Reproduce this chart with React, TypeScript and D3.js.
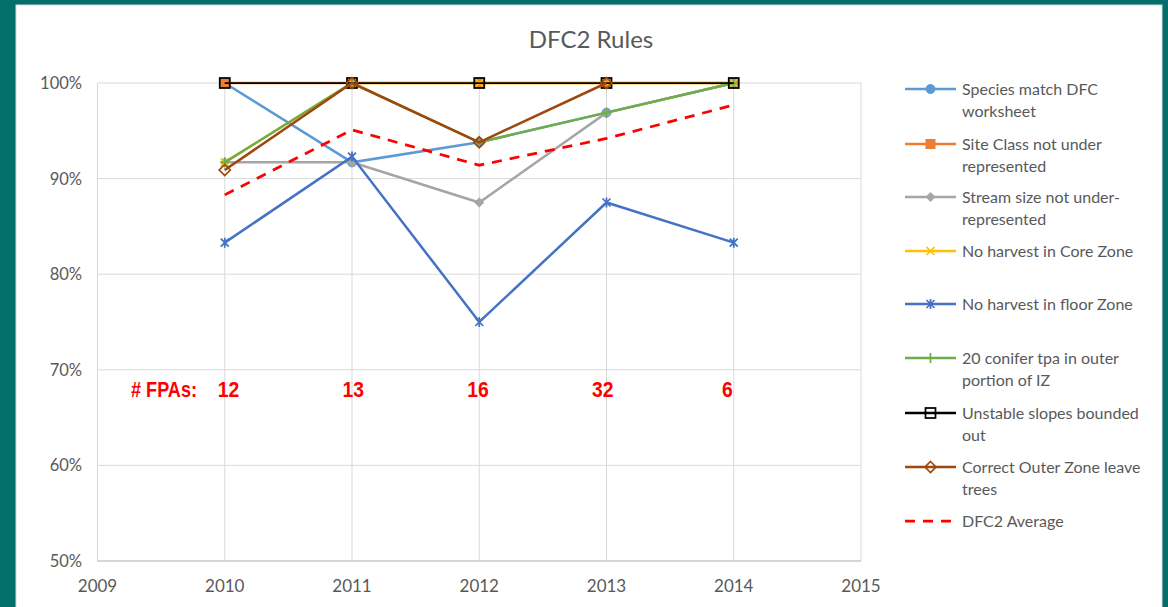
import React from 'react';
import * as d3 from 'd3';

// years on the x axis
const years = [2010, 2011, 2012, 2013, 2014];
const fpaCounts = [12, 13, 16, 32, 6];
const yTicks = [0.5, 0.6, 0.7, 0.8, 0.9, 1.0];
const xTicks = [2009, 2010, 2011, 2012, 2013, 2014, 2015];

// series values (fraction), null = no point
const speciesMatch = [1.0, 0.917, 0.938, 0.969, 1.0];
const siteClass = [1.0, 1.0, 1.0, 1.0, 1.0];
const streamSize = [0.917, 0.917, 0.875, 0.969, 1.0];
const coreZone = [0.917, 1.0, 1.0, 1.0, 1.0];
const floorZone = [0.833, 0.923, 0.75, 0.875, 0.833];
const conifer = [0.917, 1.0, 0.938, 0.969, 1.0];
const unstable = [1.0, 1.0, 1.0, 1.0, 1.0];
const outerZone = [0.909, 1.0, 0.938, 1.0, null];
const average = [0.883, 0.951, 0.914, 0.942, 0.977];

const series = [
  { name: ['Species match DFC', 'worksheet'], values: speciesMatch, color: '#5B9BD5', marker: 'circle' },
  { name: ['Site Class not under', 'represented'], values: siteClass, color: '#ED7D31', marker: 'square' },
  { name: ['Stream size not under-', 'represented'], values: streamSize, color: '#A5A5A5', marker: 'diamond' },
  { name: ['No harvest in Core Zone'], values: coreZone, color: '#FFC000', marker: 'x' },
  { name: ['No harvest in floor Zone'], values: floorZone, color: '#4472C4', marker: 'star' },
  { name: ['20 conifer tpa in outer', 'portion of IZ'], values: conifer, color: '#70AD47', marker: 'plus' },
  { name: ['Unstable slopes bounded', 'out'], values: unstable, color: '#000000', marker: 'hsquare' },
  { name: ['Correct Outer Zone leave', 'trees'], values: outerZone, color: '#9E480E', marker: 'hdiamond' },
  { name: ['DFC2 Average'], values: average, color: '#FF0000', marker: 'none', dashed: true },
];

const legendY = [89, 144, 197, 251, 304, 358, 413, 467, 521];

const Marker = ({ type, color, x, y }: { type: string; color: string; x: number; y: number }) => {
  switch (type) {
    case 'circle':
      return <circle cx={x} cy={y} r={4.5} fill={color} stroke={color} />;
    case 'square':
      return <rect x={x - 4.5} y={y - 4.5} width={9} height={9} fill={color} stroke={color} />;
    case 'diamond':
      return <path d={`M${x},${y - 5}L${x + 5},${y}L${x},${y + 5}L${x - 5},${y}Z`} fill={color} />;
    case 'x':
      return <path d={`M${x - 4},${y - 4}L${x + 4},${y + 4}M${x - 4},${y + 4}L${x + 4},${y - 4}`} stroke={color} strokeWidth={1.75} />;
    case 'star':
      return (
        <path
          d={`M${x - 4},${y - 4}L${x + 4},${y + 4}M${x - 4},${y + 4}L${x + 4},${y - 4}M${x},${y - 5}L${x},${y + 5}`}
          stroke={color}
          strokeWidth={1.75}
        />
      );
    case 'plus':
      return <path d={`M${x - 4},${y}L${x + 4},${y}M${x},${y - 5}L${x},${y + 5}`} stroke={color} strokeWidth={1.75} />;
    case 'hsquare':
      return <rect x={x - 5} y={y - 5} width={10} height={10} fill="none" stroke={color} strokeWidth={1.75} />;
    case 'hdiamond':
      return <path d={`M${x},${y - 5.5}L${x + 5.5},${y}L${x},${y + 5.5}L${x - 5.5},${y}Z`} fill="none" stroke={color} strokeWidth={1.75} />;
    default:
      return null;
  }
};

const App = () => {
  const W = 1168,
    H = 607;
  const margin = { left: 97.5, right: 861, top: 83, bottom: 561 };
  const font = 'Lato, "Open Sans", sans-serif';
  const fpaFont = '"Liberation Sans Narrow", "Liberation Sans", Arial, sans-serif';

  const x = d3.scaleLinear().domain([2009, 2015]).range([margin.left, margin.right]);
  const y = d3.scaleLinear().domain([0.5, 1.0]).range([margin.bottom, margin.top]);

  const line = d3
    .line<number | null>()
    .defined((d) => d !== null)
    .x((_, i) => x(years[i]))
    .y((d) => y(d as number));

  return (
    <svg width={W} height={H} style={{ position: 'absolute', left: 0, top: 0 }} fontFamily={font}>
      <rect x={0} y={0} width={W} height={H} fill="#036F6B" />
      <rect x={16} y={5} width={1146} height={610} fill="#ffffff" stroke="#d9d9d9" strokeWidth={1} />

      <text x={591} y={48} textAnchor="middle" fontSize={24} fill="#595959">
        DFC2 Rules
      </text>

      {/* gridlines */}
      {yTicks.map((t) => (
        <line key={'gy' + t} x1={margin.left} x2={margin.right} y1={y(t)} y2={y(t)} stroke="#d9d9d9" strokeWidth={1} />
      ))}
      {xTicks.map((t) => (
        <line key={'gx' + t} x1={x(t)} x2={x(t)} y1={margin.top} y2={margin.bottom} stroke="#d9d9d9" strokeWidth={1} />
      ))}
      <line x1={margin.left} x2={margin.right} y1={y(0.5)} y2={y(0.5)} stroke="#bfbfbf" strokeWidth={1} />

      {/* axis labels */}
      {yTicks.map((t) => (
        <text key={'ty' + t} x={82} y={y(t) + 6} textAnchor="end" fontSize={16.5} fill="#595959">
          {d3.format('.0%')(t)}
        </text>
      ))}
      {xTicks.map((t) => (
        <text key={'tx' + t} x={x(t)} y={592} textAnchor="middle" fontSize={17} fill="#595959">
          {t}
        </text>
      ))}

      {/* series lines */}
      {series.map((s, i) => (
        <g key={'s' + i}>
          <path
            d={line(s.values) || ''}
            fill="none"
            stroke={s.color}
            strokeWidth={s.marker === 'hsquare' ? 1.75 : s.dashed ? 2.75 : 2.5}
            strokeDasharray={s.dashed ? '10,8' : undefined}
          />
          {s.values.map((v, j) =>
            v === null ? null : <Marker key={j} type={s.marker} color={s.color} x={x(years[j])} y={y(v)} />
          )}
        </g>
      ))}

      {/* FPA counts */}
      <text
        x={131}
        y={397}
        fontSize={22.5}
        fontWeight="bold"
        fill="#FF0000"
        fontFamily={fpaFont}
        textLength={66}
        lengthAdjust="spacingAndGlyphs"
      >
        # FPAs:
      </text>
      {fpaCounts.map((c, i) => {
        const label = String(c);
        const w = label.length * 10.75;
        const cx = x(years[i] + 0.03 - i * 0.02);
        return (
          <text
            key={'f' + i}
            x={cx - w / 2}
            y={397}
            fontSize={22.5}
            fontWeight="bold"
            fill="#FF0000"
            fontFamily={fpaFont}
            textLength={w}
            lengthAdjust="spacingAndGlyphs"
          >
            {label}
          </text>
        );
      })}

      {/* legend */}
      {series.map((s, i) => {
        const ly = legendY[i];
        return (
          <g key={'l' + i}>
            <line
              x1={905}
              x2={956}
              y1={ly}
              y2={ly}
              stroke={s.color}
              strokeWidth={s.dashed ? 2.75 : 2.5}
              strokeDasharray={s.dashed ? '10,8' : undefined}
            />
            <Marker type={s.marker} color={s.color} x={930.5} y={ly} />
            {s.name.map((n, k) => (
              <text key={k} x={962} y={ly + 6 + k * 22} fontSize={16} fill="#595959">
                {n}
              </text>
            ))}
          </g>
        );
      })}
    </svg>
  );
};

export default App;
